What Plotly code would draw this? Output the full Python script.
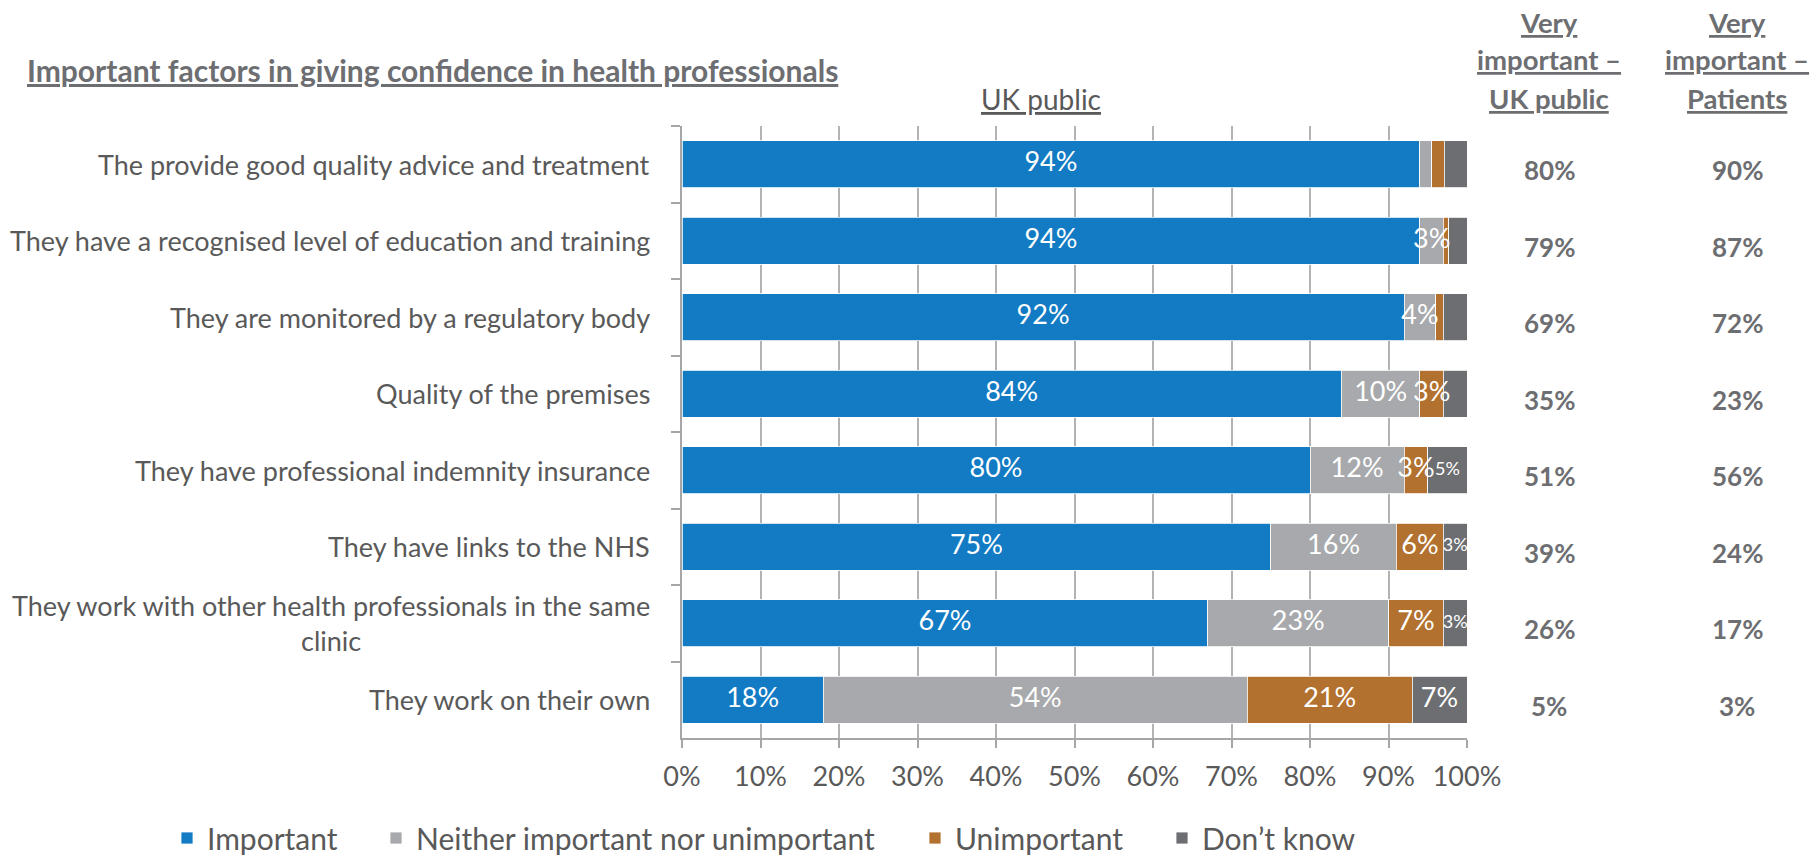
import plotly.graph_objects as go

# Survey responses, UK public (% of respondents)
factors = [
    "The provide good quality advice and treatment",
    "They have a recognised level of education and training",
    "They are monitored by a regulatory body",
    "Quality of the premises",
    "They have professional indemnity insurance",
    "They have links to the NHS",
    "They work with other health professionals in the same<br>clinic",
    "They work on their own",
]
important = [94, 94, 92, 84, 80, 75, 67, 18]
neither = [1.5, 3, 4, 10, 12, 16, 23, 54]
unimportant = [1.6, 0.7, 1, 3, 3, 6, 7, 21]
dont_know = [2.9, 2.3, 3, 3, 5, 3, 3, 7]

# which segments carry a value label
show_important = [1, 1, 1, 1, 1, 1, 1, 1]
show_neither = [0, 1, 1, 1, 1, 1, 1, 1]
show_unimportant = [0, 0, 0, 1, 1, 1, 1, 1]
show_dont_know = [0, 0, 0, 0, 1, 1, 1, 1]

very_important_public = ["80%", "79%", "69%", "35%", "51%", "39%", "26%", "5%"]
very_important_patients = ["90%", "87%", "72%", "23%", "56%", "24%", "17%", "3%"]

x_ticks = [0, 10, 20, 30, 40, 50, 60, 70, 80, 90, 100]

FONT = "Lato"
GREY_TEXT = "#595959"
HEAD_TEXT = "#6d6e71"

series = [
    ("Important", important, show_important, "#127bc4", "legend"),
    ("Neither important nor unimportant", neither, show_neither, "#a7a9ac", "legend2"),
    ("Unimportant", unimportant, show_unimportant, "#b2712e", "legend3"),
    ("Don\u2019t know", dont_know, show_dont_know, "#6d6e71", "legend4"),
]

fig = go.Figure()
for name, vals, show, color, leg in series:
    fig.add_trace(go.Bar(
        name=name,
        y=factors,
        x=vals,
        orientation="h",
        marker=dict(color=color, line=dict(color="white", width=0.8)),
        hoverinfo="skip",
        legend=leg,
    ))

# value labels sit on top of all segments, centred in each segment
lab_x, lab_y, lab_t, lab_s = [], [], [], []
start = [0.0] * len(factors)
for idx, (name, vals, show, _, _) in enumerate(series):
    for i, (v, s) in enumerate(zip(vals, show)):
        if s:
            lab_x.append(start[i] + v / 2)
            lab_y.append(factors[i])
            lab_t.append(f"{round(v)}%")
            small = idx == 3 and v < 6
            lab_s.append(18 if small else 27)
        start[i] += v

fig.add_trace(go.Scatter(
    x=lab_x, y=lab_y, text=lab_t, mode="text",
    textposition="middle center",
    textfont=dict(family=FONT, size=lab_s, color="white"),
    showlegend=False, hoverinfo="skip", cliponaxis=False,
))

fig.update_layout(
    barmode="stack",
    bargap=0.38,
    width=1819,
    height=855,
    margin=dict(l=682, r=352, t=126, b=117),
    paper_bgcolor="white",
    plot_bgcolor="white",
    showlegend=True,
    font=dict(family=FONT, color=GREY_TEXT, size=27),
    xaxis=dict(
        range=[0, 100],
        tickvals=x_ticks,
        ticktext=[f"{t}%" for t in x_ticks],
        showgrid=True,
        gridcolor="#b3b3b3",
        gridwidth=1.5,
        showline=True,
        linecolor="#a6a6a6",
        linewidth=2,
        ticks="outside",
        ticklen=8,
        tickwidth=2,
        tickcolor="#a6a6a6",
        tickfont=dict(size=27, color=GREY_TEXT),
        ticklabelstandoff=6,
        zeroline=False,
    ),
    yaxis=dict(
        autorange="reversed",
        showticklabels=False,
        showline=True,
        linecolor="#a6a6a6",
        linewidth=2,
        ticks="outside",
        tickson="boundaries",
        ticklen=9,
        tickwidth=2,
        tickcolor="#a6a6a6",
        showgrid=False,
    ),
)

# Horizontal legend entries spread along the bottom
legend_x = [167, 376, 915, 1162]
for (name, _, _, _, leg), lx in zip(series, legend_x):
    fig.update_layout({leg: dict(
        xref="container", yref="container",
        x=lx / 1819, y=1 - 838 / 855,
        xanchor="left", yanchor="middle",
        orientation="h",
        font=dict(family=FONT, size=30, color=GREY_TEXT),
        bgcolor="rgba(0,0,0,0)",
        itemclick=False, itemdoubleclick=False,
        visible=True,
    )})

PLOT_L, PLOT_R, PLOT_T, PLOT_B = 682, 1467, 126, 737.7


def px_to_paper_x(px):
    return (px - PLOT_L) / (PLOT_R - PLOT_L)


def px_to_paper_y(py):
    return (PLOT_B - py) / (PLOT_B - PLOT_T)


annotations = []
# category labels
for f in factors:
    annotations.append(dict(
        x=0, y=f, xref="x", yref="y",
        text=f, showarrow=False,
        xanchor="right", yanchor="middle", align="center",
        xshift=-30,
        font=dict(family=FONT, size=27, color=GREY_TEXT),
    ))

# "Very important" columns
col_x = [px_to_paper_x(1549), px_to_paper_x(1737)]
for cx, vals in zip(col_x, [very_important_public, very_important_patients]):
    for f, v in zip(factors, vals):
        annotations.append(dict(
            x=cx, y=f, xref="paper", yref="y",
            text=f"<b>{v}</b>", showarrow=False,
            xanchor="center", yanchor="middle", yshift=-6,
            font=dict(family=FONT, size=26, color=HEAD_TEXT),
        ))

headers = [["Very", "important \u2013", "UK public"], ["Very", "important \u2013", "Patients"]]
for cx, lines in zip(col_x, headers):
    for line, py in zip(lines, [23, 60, 99]):
        annotations.append(dict(
            x=cx, y=px_to_paper_y(py),
            xref="paper", yref="paper",
            text=f"<u><b>{line}</b></u>", showarrow=False,
            xanchor="center", yanchor="middle",
            font=dict(family=FONT, size=27.5, color=HEAD_TEXT),
        ))

# chart title and sub-heading
annotations.append(dict(
    x=px_to_paper_x(25), y=px_to_paper_y(70), xref="paper", yref="paper",
    text="<u><b>Important factors in giving confidence in health professionals</b></u>",
    showarrow=False, xanchor="left", yanchor="middle",
    font=dict(family=FONT, size=30, color=HEAD_TEXT),
))
annotations.append(dict(
    x=px_to_paper_x(1041), y=px_to_paper_y(99), xref="paper", yref="paper",
    text="<u>UK public</u>", showarrow=False, xanchor="center", yanchor="middle",
    font=dict(family=FONT, size=28, color=GREY_TEXT),
))
fig.update_layout(annotations=annotations)

fig.write_html("out.html")
